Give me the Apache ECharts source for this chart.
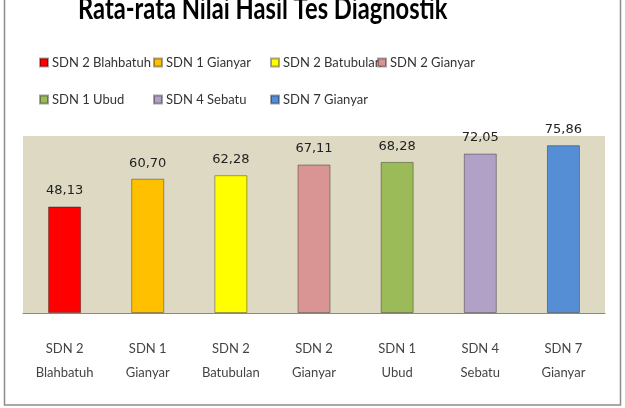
<!DOCTYPE html>
<html><head><meta charset="utf-8">
<script src="https://cdn.jsdelivr.net/npm/echarts@6/dist/echarts.min.js"></script>
<style>html,body{margin:0;padding:0;background:#fff}#c{width:625px;height:408px}</style>
</head><body><div id="c"></div>
<script>
const titleText = 'Rata-rata Nilai Hasil Tes Diagnostik';
const schools = ['SDN 2 Blahbatuh','SDN 1 Gianyar','SDN 2 Batubulan','SDN 2 Gianyar','SDN 1 Ubud','SDN 4 Sebatu','SDN 7 Gianyar'];
const values = [48.13, 60.70, 62.28, 67.11, 68.28, 72.05, 75.86];
const colors = ['#FF0000','#FFC000','#FFFF00','#D99594','#9BBB59','#B2A1C7','#558ED5'];
const legendPos = [[39,56],[153,56],[270,56],[377,56],[39,93],[153,93],[270,93]];

const series = schools.map((s,i)=>({
  name: s, type: 'bar', barWidth: 33, barGap: '-100%',
  data: values.map((v,j)=> j===i ? v : null),
  itemStyle: {color: colors[i], borderColor: 'rgba(0,0,0,0.35)', borderWidth: 1},
  label: {show: true, position: 'top', distance: 9, fontFamily: 'DejaVu Sans', fontSize: 13, color: '#222',
    formatter: p => p.value.toFixed(2).replace('.', ',')},
  animation: false
}));
const legends = schools.map((s,i)=>({
  data: [s], left: legendPos[i][0], top: legendPos[i][1], padding: 0, itemWidth: 8, itemHeight: 8, itemGap: 4,
  icon: 'rect', textStyle: {fontFamily: 'Lato', fontSize: 13, color: '#333', padding: [0,0,0,-1]}
}));
const chart = echarts.init(document.getElementById('c'), null, {renderer: 'canvas'});
chart.setOption({
  animation: false,
  legend: legends,
  grid: {left: 23, right: 20, top: 136, bottom: 95, show: true, backgroundColor: '#DDD9C3', borderWidth: 0},
  xAxis: {type: 'category', data: schools,
    axisLine: {lineStyle: {color: '#888', width: 1}}, axisTick: {show: false},
    axisLabel: {margin: 24, fontFamily: 'Lato', fontSize: 13, color: '#444', lineHeight: 24,
      formatter: v => { const w = v.split(' '); return w.slice(0,2).join(' ') + '\n' + w.slice(2).join(' '); }}},
  yAxis: {type: 'value', min: 0, max: 80, show: false, splitLine: {show: false}},
  series: series,
  graphic: [
    {type: 'rect', shape: {x: 4.5, y: -10, width: 616, height: 415}, style: {fill: 'none', stroke: '#8c8c8c', lineWidth: 1.5}, silent: true},
    {type: 'text', x: 78, y: 24, scaleX: 0.79, originX: 0, originY: 0,
      style: {text: titleText, fontFamily: 'Lato', fontWeight: 'bold', fontSize: 30, fill: '#000', textVerticalAlign: 'bottom'}, silent: true}
  ]
});
</script></body></html>
